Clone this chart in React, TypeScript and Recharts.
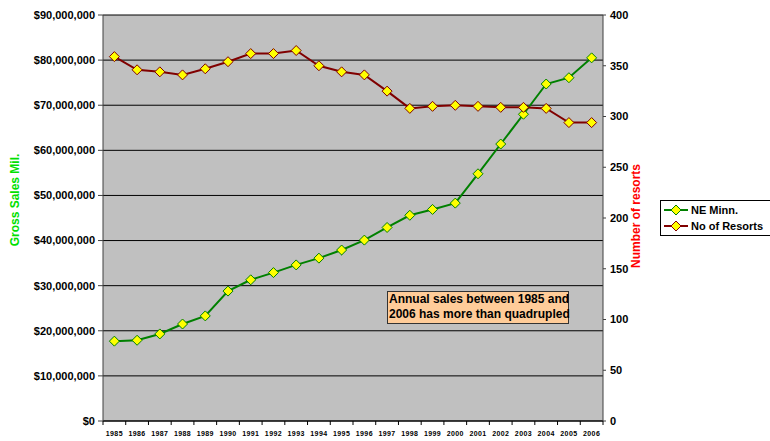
import { CartesianGrid, Legend, Line, LineChart, XAxis, YAxis } from "recharts";

const years = ["1985", "1986", "1987", "1988", "1989", "1990", "1991", "1992", "1993", "1994", "1995", "1996", "1997", "1998", "1999", "2000", "2001", "2002", "2003", "2004", "2005", "2006"];
const salesNE = [17700000, 17900000, 19300000, 21500000, 23300000, 28800000, 31300000, 32900000, 34600000, 36100000, 37900000, 40100000, 42900000, 45600000, 46900000, 48300000, 54800000, 61400000, 68000000, 74700000, 76100000, 80500000];
const resorts = [359, 346, 344, 341, 347, 354, 362, 362, 365, 350, 344, 341, 325, 308, 310, 311, 310, 309, 309, 308, 294, 294];
const salesTicks = [0, 10000000, 20000000, 30000000, 40000000, 50000000, 60000000, 70000000, 80000000, 90000000];
const resortTicks = [0, 50, 100, 150, 200, 250, 300, 350, 400];

const datos = years.map((anio, i) => ({ anio, ventas: salesNE[i], resorts: resorts[i] }));

const FUENTE = "'Liberation Sans', Arial, sans-serif";
const VERDE = "#008000";
const ROJO = "#800000";

const ANCHO = 770;
const ALTO = 441;
const EJE_IZQ = 103;
const EJE_DER = 58;
const MARGEN_DER = 109;
const ABAJO_PLOT = 421;
const BANDA = (ANCHO - EJE_IZQ - EJE_DER - MARGEN_DER) / years.length;

function Rombo(props: any) {
    const { cx, cy, stroke } = props;
    if (cx == null || cy == null) return null;
    const r = 5;
    return (
        <path
            d={`M${cx},${cy - r} L${cx + r},${cy} L${cx},${cy + r} L${cx - r},${cy} Z`}
            fill="#ffff00"
            stroke={stroke}
            strokeWidth={1}
        />
    );
}

function TickAnio(props: any) {
    const { x, payload, index } = props;
    const izq = x - BANDA / 2;
    return (
        <g>
            <line x1={izq} x2={izq} y1={ABAJO_PLOT} y2={ABAJO_PLOT + 4} stroke="#000" />
            {index === years.length - 1 && (
                <line x1={x + BANDA / 2} x2={x + BANDA / 2} y1={ABAJO_PLOT} y2={ABAJO_PLOT + 4} stroke="#000" />
            )}
            <text x={x} y={ABAJO_PLOT + 15} textAnchor="middle" fontSize={7} fontWeight="bold" fontFamily={FUENTE} letterSpacing={0.4} fill="#000">
                {payload.value}
            </text>
        </g>
    );
}

function CajaLeyenda() {
    const items = [
        { nombre: "NE Minn.", color: VERDE },
        { nombre: "No of Resorts", color: ROJO },
    ];
    return (
        <div style={{ width: 107, border: "1px solid #000", background: "#fff", padding: "1px 2px", fontFamily: FUENTE, fontWeight: "bold", fontSize: 11, color: "#000" }}>
            {items.map((it) => (
                <div key={it.nombre} style={{ display: "flex", alignItems: "center", height: 16 }}>
                    <svg width={26} height={12} style={{ marginRight: 2 }}>
                        <line x1={1} x2={25} y1={6} y2={6} stroke={it.color} strokeWidth={2} />
                        <path d="M13,1 L18,6 L13,11 L8,6 Z" fill="#ffff00" stroke={it.color} />
                    </svg>
                    <span>{it.nombre}</span>
                </div>
            ))}
        </div>
    );
}

export default function App() {
    return (
        <div style={{ position: "absolute", left: 0, top: 0, width: ANCHO, height: ALTO, background: "#fff" }}>
            <LineChart width={ANCHO} height={ALTO} data={datos} margin={{ top: 15, right: MARGEN_DER, bottom: 0, left: 0 }}>
                <CartesianGrid yAxisId="ventas" horizontal vertical={false} stroke="#000" fill="#c0c0c0" fillOpacity={1} horizontalValues={salesTicks} />
                <XAxis
                    dataKey="anio"
                    height={ALTO - ABAJO_PLOT}
                    interval={0}
                    tickLine={false}
                    stroke="#000"
                    padding={{ left: BANDA / 2, right: BANDA / 2 }}
                    tick={<TickAnio />}
                />
                <YAxis
                    yAxisId="ventas"
                    width={EJE_IZQ}
                    domain={[0, 90000000]}
                    ticks={salesTicks}
                    tickSize={5}
                    tickMargin={3}
                    stroke="#404040"
                    tick={{ fill: "#000", fontSize: 11, fontWeight: "bold", fontFamily: FUENTE }}
                    tickFormatter={(v: number) => `$${v.toLocaleString("en-US")}`}
                    label={{
                        content: () => (
                            <text x={19} y={200} transform="rotate(-90,19,200)" textAnchor="middle" fill="#00e000" fontSize={12} fontWeight="bold" fontFamily={FUENTE}>
                                Gross Sales Mil.
                            </text>
                        ),
                    }}
                />
                <YAxis
                    yAxisId="resorts"
                    orientation="right"
                    width={EJE_DER}
                    domain={[0, 400]}
                    ticks={resortTicks}
                    tickSize={3}
                    tickMargin={4}
                    stroke="#404040"
                    tick={{ fill: "#000", fontSize: 11, fontWeight: "bold", fontFamily: FUENTE }}
                    label={{
                        content: () => (
                            <text x={640} y={216} transform="rotate(-90,640,216)" textAnchor="middle" fill="#ff0000" fontSize={12} fontWeight="bold" fontFamily={FUENTE}>
                                Number of resorts
                            </text>
                        ),
                    }}
                />
                <Legend layout="horizontal" verticalAlign="middle" align="center" content={<CajaLeyenda />} wrapperStyle={{ left: 660, top: 200, width: 109 }} />
                <Line yAxisId="ventas" dataKey="ventas" name="NE Minn." stroke={VERDE} strokeWidth={2} dot={<Rombo />} activeDot={false} isAnimationActive={false} />
                <Line yAxisId="resorts" dataKey="resorts" name="No of Resorts" stroke={ROJO} strokeWidth={2} dot={<Rombo />} activeDot={false} isAnimationActive={false} />
            </LineChart>
            <div
                style={{
                    position: "absolute",
                    left: 387,
                    top: 291,
                    width: 179,
                    height: 31,
                    background: "#ffcc99",
                    border: "1px solid #333",
                    fontFamily: FUENTE,
                    fontWeight: "bold",
                    fontSize: 12,
                    lineHeight: "15px",
                    padding: "0 0 0 1px",
                    color: "#000",
                    whiteSpace: "nowrap",
                }}
            >
                Annual sales between 1985 and
                <br />
                2006 has more than quadrupled
            </div>
        </div>
    );
}
